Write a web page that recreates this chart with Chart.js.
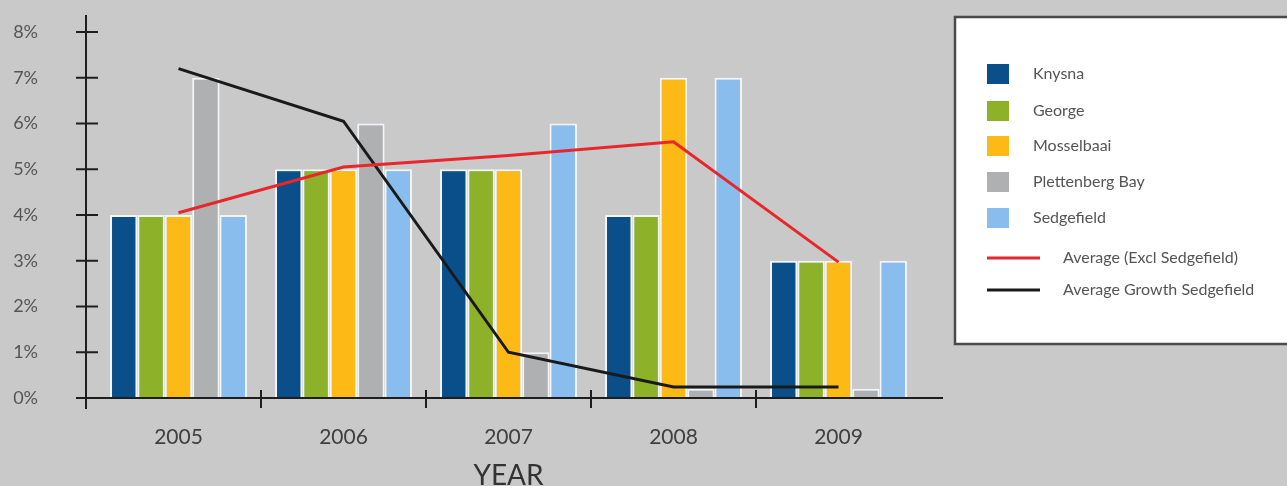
<!DOCTYPE html>
<html><head><meta charset="utf-8">
<script src="https://cdn.jsdelivr.net/npm/chart.js@4.4.1/dist/chart.umd.min.js"></script>
<style>html,body{margin:0;padding:0;background:#c8c9c8;overflow:hidden}</style>
</head><body>
<canvas id="c" width="1287" height="486" style="display:block"></canvas>
<script>
const years = ['2005','2006','2007','2008','2009'];
const knysna = [4,5,5,4,3];
const george = [4,5,5,4,3];
const mosselbaai = [4,5,5,7,3];
const plettenberg = [7,6,1,0.2,0.2];
const sedgefield = [4,5,6,7,3];
const avgExclSedgefield = [4.05,5.05,5.3,5.6,2.97];
const avgGrowthSedgefield = [7.2,6.05,1.0,0.24,0.24];
const yTicks = [0,1,2,3,4,5,6,7,8];

const FONT = 'Lato, "Open Sans", sans-serif';
const barStyle = {type:'bar', borderWidth:2, borderColor:'#f2f5f7', borderSkipped:'start', categoryPercentage:0.83, barPercentage:1, order:2};

const bgPlugin = {id:'bg', beforeDraw(chart){const c=chart.ctx;c.save();c.fillStyle='#c8c9c8';c.fillRect(0,0,chart.width,chart.height);c.restore();}};

const axesPlugin = {id:'axes', afterDatasetsDraw(chart){
  const c=chart.ctx, x=chart.scales.x, y=chart.scales.y;
  const ax=86, y0=y.getPixelForValue(0);
  c.save(); c.strokeStyle='#1e1e1e'; c.lineWidth=2;
  c.beginPath(); c.moveTo(ax,15); c.lineTo(ax,409); c.stroke();
  c.beginPath(); c.moveTo(76,y0); c.lineTo(943,y0); c.stroke();
  yTicks.forEach(v=>{const py=y.getPixelForValue(v); if(v===0) return; c.beginPath(); c.moveTo(76,py); c.lineTo(98,py); c.stroke();});
  for(let i=0;i<years.length-1;i++){const px=(x.getPixelForValue(i)+x.getPixelForValue(i+1))/2; c.beginPath(); c.moveTo(px,y0-8); c.lineTo(px,y0+10); c.stroke();}
  c.restore();
}};

const legendPlugin = {id:'customLegend', afterDraw(chart){
  const c=chart.ctx; c.save();
  c.fillStyle='#ffffff'; c.fillRect(955,17,340,327);
  c.strokeStyle='#4a4a4a'; c.lineWidth=2.5; c.strokeRect(955,17,340,327);
  const ds=chart.data.datasets;
  const bars=ds.filter(d=>d.type==='bar'), lines=ds.filter(d=>d.type==='line');
  const barY=[74,111,146,182,218];
  c.font='16px '+FONT; c.fillStyle='#555'; c.textBaseline='middle';
  bars.forEach((d,i)=>{c.fillStyle=d.backgroundColor; c.fillRect(987,barY[i]-10,22,20); c.fillStyle='#555'; c.fillText(d.label,1033,barY[i]);});
  const lineY=[258,290];
  lines.forEach((d,i)=>{c.strokeStyle=d.borderColor; c.lineWidth=3; c.beginPath(); c.moveTo(987,lineY[i]); c.lineTo(1040,lineY[i]); c.stroke(); c.fillStyle='#555'; c.fillText(d.label,1063,lineY[i]);});
  c.restore();
}};

const chart = new Chart(document.getElementById('c'), {
  data:{labels:years, datasets:[
    Object.assign({label:'Knysna', data:knysna, backgroundColor:'#0a4f8a'}, barStyle),
    Object.assign({label:'George', data:george, backgroundColor:'#8db22a'}, barStyle),
    Object.assign({label:'Mosselbaai', data:mosselbaai, backgroundColor:'#fdb916'}, barStyle),
    Object.assign({label:'Plettenberg Bay', data:plettenberg, backgroundColor:'#aeb0b1'}, barStyle),
    Object.assign({label:'Sedgefield', data:sedgefield, backgroundColor:'#88bdee'}, barStyle),
    {type:'line', label:'Average (Excl Sedgefield)', data:avgExclSedgefield, borderColor:'#e8262b', borderWidth:3, pointRadius:0, tension:0, fill:false, order:0},
    {type:'line', label:'Average Growth Sedgefield', data:avgGrowthSedgefield, borderColor:'#1a1a1a', borderWidth:3, pointRadius:0, tension:0, fill:false, order:0}
  ]},
  options:{responsive:false, animation:false, events:[],
    layout:{padding:{left:0,right:366,top:32,bottom:0}},
    plugins:{legend:{display:false}, tooltip:{enabled:false}},
    scales:{
      x:{offset:true, grid:{display:false, drawTicks:false}, border:{display:false},
         ticks:{color:'#3f3f3f', font:{family:FONT,size:21}, padding:27},
         title:{display:true, text:'YEAR', color:'#333', font:{family:FONT,size:28,lineHeight:0.7}, padding:0},
         afterFit:s=>{s.height=88;}},
      y:{min:0, max:8, border:{display:false},
         grid:{display:true, drawOnChartArea:false, drawTicks:true, tickLength:54, color:'rgba(0,0,0,0)'},
         afterBuildTicks:s=>{s.ticks=yTicks.map(v=>({value:v}));},
         ticks:{callback:v=>v+'%', color:'#555', font:{family:FONT,size:18}, padding:4},
         afterFit:s=>{s.width=96;}}
    }
  },
  plugins:[bgPlugin, axesPlugin, legendPlugin]
});
for (let k=0;k<4;k++){
  const a = chart.chartArea;
  const dTop = a.top - 32, dBottom = a.bottom - 398;
  if (Math.abs(dTop) < 0.5 && Math.abs(dBottom) < 0.5) break;
  const p = chart.config.options.layout.padding;
  p.top -= dTop; p.bottom += dBottom;
  chart.update();
}
</script>
</body></html>
